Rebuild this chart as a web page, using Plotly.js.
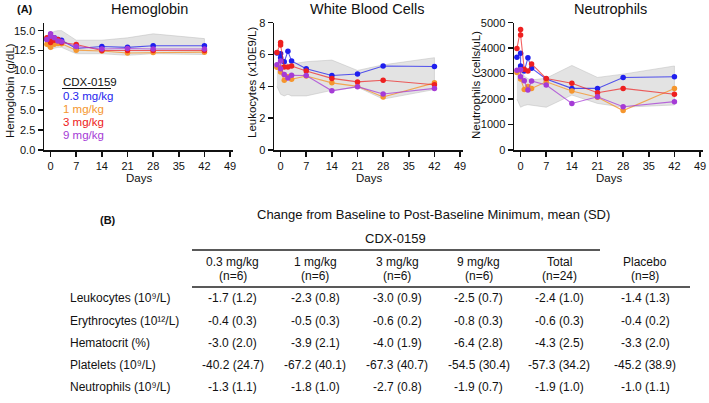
<!DOCTYPE html>
<html><head><meta charset="utf-8">
<script src="https://cdn.plot.ly/plotly-3.0.1.min.js"></script>
<style>html,body{margin:0;padding:0;background:#fff}#chart{width:709px;height:403px}</style>
</head><body><div id="chart"></div>
<script>
// ---------- DATA ----------
const days = [-1, 0, 0, 1, 2, 3, 7, 14, 21, 28, 42];
const bandDays = [-1, 0, 1, 2, 3, 7, 14, 21, 28, 42];
const doseLabels = ['0.3 mg/kg', '1 mg/kg', '3 mg/kg', '9 mg/kg'];

const hgb_03 = [13.9, 14.0, 13.6, 14.1, 13.9, 13.8, 12.75, 13.0, 12.9, 13.1, 13.1];
const hgb_1  = [13.3, 13.3, 12.9, 13.3, 13.4, 13.35, 12.55, 12.45, 12.2, 12.25, 12.3];
const hgb_3  = [14.1, 13.9, 13.5, 13.8, 13.9, 13.5, 13.25, 12.5, 12.5, 12.5, 12.5];
const hgb_9  = [13.9, 14.6, 14.3, 14.1, 13.7, 13.6, 13.0, 12.7, 12.75, 12.7, 12.7];
const hgb_bandHi = [14.4, 14.7, 14.9, 15.0, 15.0, 13.8, 13.8, 14.1, 14.6, 14.0];
const hgb_bandLo = [12.9, 12.6, 12.8, 12.9, 12.9, 12.1, 12.1, 11.9, 12.1, 12.0];

const wbc_03 = [6.1, 6.05, 5.8, 5.55, 6.2, 5.6, 5.1, 4.68, 4.78, 5.28, 5.25];
const wbc_1  = [5.2, 5.2, 4.9, 4.38, 4.6, 4.45, 4.65, 4.22, 4.0, 3.33, 4.22];
const wbc_3  = [6.12, 6.75, 6.6, 5.22, 5.22, 5.28, 4.97, 4.5, 4.28, 4.38, 4.1];
const wbc_9  = [5.35, 5.6, 5.1, 4.75, 4.52, 4.7, 4.68, 3.72, 3.98, 3.52, 3.87];
const wbc_bandHi = [5.3, 6.0, 5.6, 5.4, 5.4, 5.55, 5.65, 5.0, 5.35, 5.8];
const wbc_bandLo = [4.0, 3.5, 3.4, 3.5, 3.4, 3.4, 3.75, 3.95, 3.2, 3.8];

const neu_03 = [3640, 3800, 3300, 3100, 3620, 3210, 2790, 2420, 2420, 2850, 2880];
const neu_1  = [3040, 3140, 2790, 2380, 2490, 2420, 2680, 2320, 2070, 1550, 2420];
const neu_3  = [3990, 4730, 4520, 3170, 3100, 3380, 2810, 2620, 2250, 2420, 2190];
const neu_9  = [3130, 3150, 2880, 2720, 2360, 2710, 2550, 1830, 2090, 1700, 1900];
const neu_bandHi = [3100, 3200, 2900, 2800, 2750, 2820, 3320, 2850, 2980, 3300];
const neu_bandLo = [2000, 1680, 1750, 1780, 1770, 1680, 2160, 1830, 1680, 1770];

const tableTitle = 'Change from Baseline to Post-Baseline Minimum, mean (SD)';
const groupLabel = 'CDX-0159';
const colHeads = ['0.3 mg/kg', '1 mg/kg', '3 mg/kg', '9 mg/kg', 'Total', 'Placebo'];
const colNs = ['(n=6)', '(n=6)', '(n=6)', '(n=6)', '(n=24)', '(n=8)'];
const rowLabels = ['Leukocytes (10\u2079/L)', 'Erythrocytes (10\u00b9\u00b2/L)', 'Hematocrit (%)', 'Platelets (10\u2079/L)', 'Neutrophils (10\u2079/L)'];
const col_03  = ['-1.7 (1.2)', '-0.4 (0.3)', '-3.0 (2.0)', '-40.2 (24.7)', '-1.3 (1.1)'];
const col_1   = ['-2.3 (0.8)', '-0.5 (0.3)', '-3.9 (2.1)', '-67.2 (40.1)', '-1.8 (1.0)'];
const col_3   = ['-3.0 (0.9)', '-0.6 (0.2)', '-4.0 (1.9)', '-67.3 (40.7)', '-2.7 (0.8)'];
const col_9   = ['-2.5 (0.7)', '-0.8 (0.3)', '-6.4 (2.8)', '-54.5 (30.4)', '-1.9 (0.7)'];
const col_tot = ['-2.4 (1.0)', '-0.6 (0.3)', '-4.3 (2.5)', '-57.3 (34.2)', '-1.9 (1.0)'];
const col_pbo = ['-1.4 (1.3)', '-0.4 (0.2)', '-3.3 (2.0)', '-45.2 (38.9)', '-1.0 (1.1)'];

// ---------- STYLE ----------
const W = 709, H = 403;
const FONT = 'Liberation Sans, Arial, sans-serif';
const colors = ['#1f1fee', '#f5962e', '#ee2020', '#a53bd6'];
const lineColors = ['rgba(31,31,238,0.75)', 'rgba(245,150,46,0.8)', 'rgba(238,32,32,0.7)', 'rgba(165,59,214,0.75)'];
const px = x => x / W;
const py = y => 1 - y / H;

const panels = [
  {series: [hgb_03, hgb_1, hgb_3, hgb_9], hi: hgb_bandHi, lo: hgb_bandLo, x0: 44, title: 'Hemoglobin', ytitle: 'Hemoglobin (g/dL)', range: [0, 16], dtick: 2.5, fmt: '.1f', titleX: 149, ytX: 10, ytY: 91},
  {series: [wbc_03, wbc_1, wbc_3, wbc_9], hi: wbc_bandHi, lo: wbc_bandLo, x0: 274, title: 'White Blood Cells', ytitle: 'Leukocytes (x10E9/L)', range: [0, 8], dtick: 2, fmt: 'd', titleX: 367, ytX: 252, ytY: 83},
  {series: [neu_03, neu_1, neu_3, neu_9], hi: neu_bandHi, lo: neu_bandLo, x0: 514, title: 'Neutrophils', ytitle: 'Neutrophils (cells/uL)', range: [0, 5000], dtick: 1000, fmt: 'd', titleX: 610, ytX: 476, ytY: 85}
];

const traces = [];
const layout = {
  width: W, height: H, margin: {l: 0, r: 0, t: 0, b: 0},
  paper_bgcolor: '#fff', plot_bgcolor: 'rgba(0,0,0,0)',
  showlegend: false, font: {family: FONT, color: '#111', size: 11},
  annotations: [], shapes: []
};

panels.forEach((p, i) => {
  const n = i === 0 ? '' : String(i + 1);
  const xa = 'x' + n, ya = 'y' + n;
  traces.push({
    x: bandDays.concat(bandDays.slice().reverse()),
    y: p.hi.concat(p.lo.slice().reverse()),
    xaxis: xa, yaxis: ya, mode: 'lines', fill: 'toself',
    fillcolor: 'rgba(215,215,215,0.7)', line: {color: 'rgba(185,185,185,0.8)', width: 0.6},
    hoverinfo: 'skip'
  });
  p.series.forEach((s, k) => {
    traces.push({
      x: days, y: s, xaxis: xa, yaxis: ya, mode: 'lines+markers',
      line: {color: lineColors[k], width: 1.1},
      marker: {color: colors[k], size: 5.5}
    });
  });
  const x1 = p.x0 + 189;
  layout['xaxis' + n] = {
    domain: [px(p.x0), px(x1)], range: [-1.8, 49.8], anchor: ya,
    tick0: 0, dtick: 7, showline: true, linecolor: '#111', linewidth: 1.5,
    ticks: 'outside', ticklen: 5, tickwidth: 1.5, tickcolor: '#111',
    showgrid: false, zeroline: false, tickfont: {size: 11, color: '#111'}
  };
  layout['yaxis' + n] = {
    domain: [py(150), py(22.7)], range: p.range, anchor: xa,
    tick0: 0, dtick: p.dtick, tickformat: p.fmt, showline: true, linecolor: '#111', linewidth: 1.5,
    ticks: 'outside', ticklen: 5, tickwidth: 1.5, tickcolor: '#111',
    showgrid: false, zeroline: false, tickfont: {size: 11, color: '#111'}
  };
  layout.annotations.push({
    text: p.title, xref: 'paper', yref: 'paper', x: px(p.titleX), y: py(9.5),
    xanchor: 'center', yanchor: 'middle', showarrow: false, font: {size: 14.5, color: '#111'}
  });
  layout.annotations.push({
    text: p.ytitle, xref: 'paper', yref: 'paper', x: px(p.ytX), y: py(p.ytY), textangle: -90,
    xanchor: 'center', yanchor: 'middle', showarrow: false, font: {size: 11.5, color: '#111'}
  });
  layout.annotations.push({
    text: 'Days', xref: 'paper', yref: 'paper', x: px(p.x0 + 95), y: py(177.5),
    xanchor: 'center', yanchor: 'middle', showarrow: false, font: {size: 11.5, color: '#111'}
  });
});

// panel labels
layout.annotations.push({text: '<b>(A)</b>', xref: 'paper', yref: 'paper', x: px(15), y: py(9), xanchor: 'left', yanchor: 'middle', showarrow: false, font: {size: 11}});
layout.annotations.push({text: '<b>(B)</b>', xref: 'paper', yref: 'paper', x: px(98), y: py(220), xanchor: 'left', yanchor: 'middle', showarrow: false, font: {size: 11}});

// legend inside hemoglobin panel
layout.annotations.push({text: groupLabel, xref: 'paper', yref: 'paper', x: px(61), y: py(82), xanchor: 'left', yanchor: 'middle', showarrow: false, font: {size: 11.5, color: '#111'}});
layout.shapes.push({type: 'line', xref: 'paper', yref: 'paper', x0: px(62), x1: px(111), y0: py(88.5), y1: py(88.5), line: {color: '#111', width: 1}});
doseLabels.forEach((d, k) => {
  layout.annotations.push({text: d, xref: 'paper', yref: 'paper', x: px(61), y: py(96 + k * 13), xanchor: 'left', yanchor: 'middle', showarrow: false, font: {size: 11.5, color: colors[k]}});
});

// ---------- TABLE ----------
layout.annotations.push({text: tableTitle, xref: 'paper', yref: 'paper', x: px(433), y: py(214), xanchor: 'center', yanchor: 'middle', showarrow: false, font: {size: 13, color: '#111'}});
layout.annotations.push({text: groupLabel, xref: 'paper', yref: 'paper', x: px(395), y: py(238), xanchor: 'center', yanchor: 'middle', showarrow: false, font: {size: 13, color: '#111'}});
layout.shapes.push({type: 'line', xref: 'paper', yref: 'paper', x0: px(192), x1: px(600), y0: py(250), y1: py(250), line: {color: '#222', width: 1.5}});
layout.shapes.push({type: 'line', xref: 'paper', yref: 'paper', x0: px(192), x1: px(690), y0: py(287), y1: py(287), line: {color: '#222', width: 1.5}});
const colX = [232.5, 315, 397, 479, 559, 645];
const cols = [col_03, col_1, col_3, col_9, col_tot, col_pbo];
const rowY = [298, 320.5, 342.8, 365, 387.3];
colHeads.forEach((h, c) => {
  layout.annotations.push({text: h, xref: 'paper', yref: 'paper', x: px(colX[c]), y: py(262), xanchor: 'center', yanchor: 'middle', showarrow: false, font: {size: 12, color: '#111'}});
  layout.annotations.push({text: colNs[c], xref: 'paper', yref: 'paper', x: px(colX[c]), y: py(276), xanchor: 'center', yanchor: 'middle', showarrow: false, font: {size: 12, color: '#111'}});
});
rowLabels.forEach((r, ri) => {
  layout.annotations.push({text: r, xref: 'paper', yref: 'paper', x: px(68), y: py(rowY[ri]), xanchor: 'left', yanchor: 'middle', showarrow: false, font: {size: 12, color: '#111'}});
  cols.forEach((col, c) => {
    layout.annotations.push({text: col[ri], xref: 'paper', yref: 'paper', x: px(colX[c]), y: py(rowY[ri]), xanchor: 'center', yanchor: 'middle', showarrow: false, font: {size: 12, color: '#111'}});
  });
});

Plotly.newPlot('chart', traces, layout, {staticPlot: true, displayModeBar: false});
</script></body></html>
